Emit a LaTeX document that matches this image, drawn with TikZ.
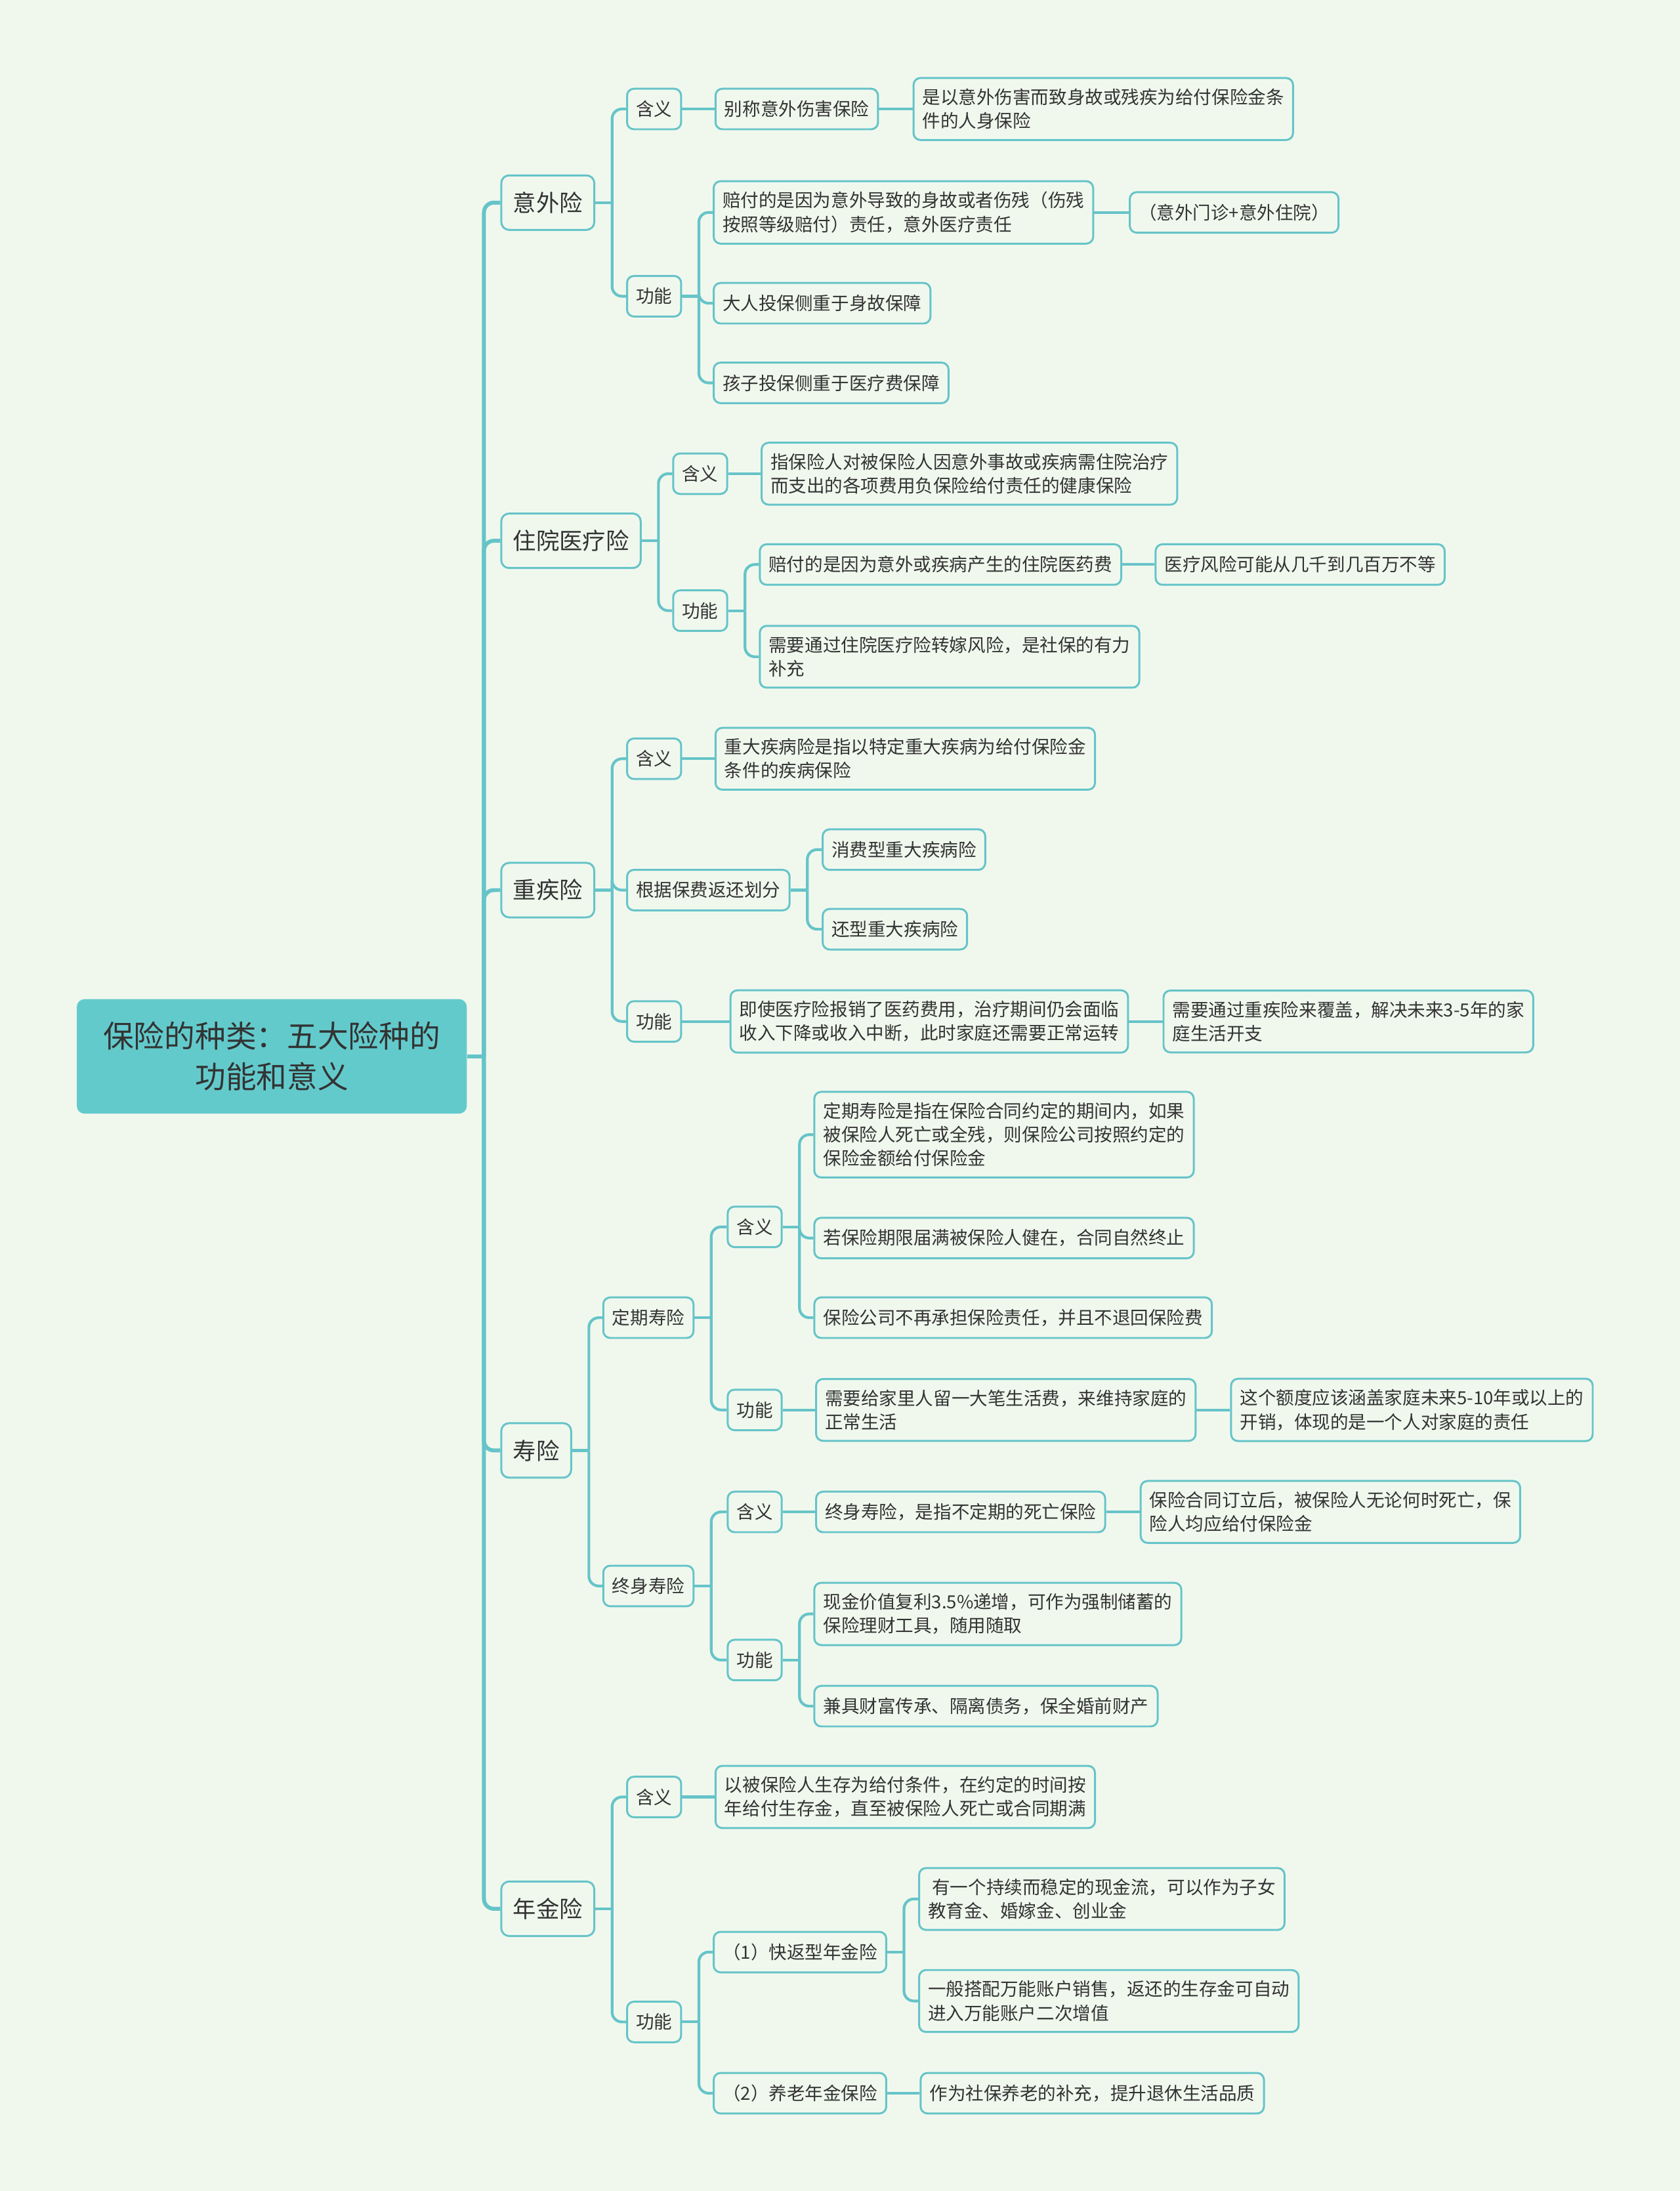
\documentclass[tikz,border=0pt]{standalone}
\usepackage{fontspec}
\setmainfont{Noto Sans CJK SC}
\usetikzlibrary{positioning}
\definecolor{bgc}{HTML}{F0F8EE}
\definecolor{linec}{HTML}{66C4C8}
\definecolor{rootc}{HTML}{63CACC}
\definecolor{txtc}{HTML}{333333}

\begin{document}
\begin{tikzpicture}[
  x=0.025cm, y=-0.025cm,
  link/.style  = {draw=linec, line width=1.4pt, rounded corners=5pt},
  root/.style  = {fill=rootc, rounded corners=4pt, text=txtc, align=center,
                  minimum width=6.975cm, minimum height=2.05cm,
                  font=\fontsize{15.6}{20.6}\selectfont},
  main/.style  = {draw=linec, line width=1pt, fill=bgc, rounded corners=4pt, text=txtc,
                  inner xsep=0.21cm, minimum height=0.975cm,
                  font=\fontsize{11.8}{15}\selectfont},
  box/.style   = {draw=linec, line width=1pt, fill=bgc, rounded corners=3.5pt, text=txtc,
                  align=left, inner xsep=0.16cm, inner ysep=0.19cm, minimum height=0.725cm,
                  font=\fontsize{9.2}{12.1}\selectfont},
]
  \fill[bgc] (0,0) rectangle (1202,1568);

  \node[root] (root) at (194.5,756) {保险的种类：五大险种的\\功能和意义};

  \node[main, anchor=west] (yw) at (358,145)  {意外险};
  \node[main, anchor=west] (zy) at (358,387)  {住院医疗险};
  \node[main, anchor=west] (zj) at (358,637)  {重疾险};
  \node[main, anchor=west] (sx) at (358,1038) {寿险};
  \node[main, anchor=west] (nj) at (358,1366) {年金险};

  % 意外险
  \node[box, anchor=west]          (ywhy)   at (448,78) {含义};
  \node[box, right=0.58cm of ywhy]  (ywhy1)  {别称意外伤害保险};
  \node[box, right=0.6cm of ywhy1]  (ywhy2)  {是以意外伤害而致身故或残疾为给付保险金条\\件的人身保险};
  \node[box, anchor=west]          (ywgn)   at (448,212) {功能};
  \node[box, anchor=west]          (ywgn1)  at (510,152) {赔付的是因为意外导致的身故或者伤残（伤残\\按照等级赔付）责任，意外医疗责任};
  \node[box, right=0.62cm of ywgn1] (ywgn1a) {（意外门诊+意外住院）};
  \node[box, anchor=west]          (ywgn2)  at (510,217) {大人投保侧重于身故保障};
  \node[box, anchor=west]          (ywgn3)  at (510,274) {孩子投保侧重于医疗费保障};

  % 住院医疗险
  \node[box, anchor=west]          (zyhy)   at (481,339) {含义};
  \node[box, right=0.58cm of zyhy]  (zyhy1)  {指保险人对被保险人因意外事故或疾病需住院治疗\\而支出的各项费用负保险给付责任的健康保险};
  \node[box, anchor=west]          (zygn)   at (481,437) {功能};
  \node[box, anchor=west]          (zygn1)  at (543,404) {赔付的是因为意外或疾病产生的住院医药费};
  \node[box, right=0.58cm of zygn1] (zygn1a) {医疗风险可能从几千到几百万不等};
  \node[box, anchor=west]          (zygn2)  at (543,470) {需要通过住院医疗险转嫁风险，是社保的有力\\补充};

  % 重疾险
  \node[box, anchor=west]          (zjhy)   at (448,543) {含义};
  \node[box, right=0.58cm of zjhy]  (zjhy1)  {重大疾病险是指以特定重大疾病为给付保险金\\条件的疾病保险};
  \node[box, anchor=west]          (zjfl)   at (448,637) {根据保费返还划分};
  \node[box, anchor=west]          (zjfl1)  at (588,608) {消费型重大疾病险};
  \node[box, anchor=west]          (zjfl2)  at (588,665) {还型重大疾病险};
  \node[box, anchor=west]          (zjgn)   at (448,731) {功能};
  \node[box, anchor=west]          (zjgn1)  at (522,731) {即使医疗险报销了医药费用，治疗期间仍会面临\\收入下降或收入中断，此时家庭还需要正常运转};
  \node[box, right=0.6cm of zjgn1]  (zjgn1a) {需要通过重疾险来覆盖，解决未来3-5年的家\\庭生活开支};

  % 寿险
  \node[box, anchor=west]          (dq)     at (431,943)  {定期寿险};
  \node[box, anchor=west]          (zs)     at (431,1135) {终身寿险};
  \node[box, anchor=west]          (dqhy)   at (520,878)  {含义};
  \node[box, anchor=west]          (dqhy1)  at (582,812)  {定期寿险是指在保险合同约定的期间内，如果\\被保险人死亡或全残，则保险公司按照约定的\\保险金额给付保险金};
  \node[box, anchor=west]          (dqhy2)  at (582,886)  {若保险期限届满被保险人健在，合同自然终止};
  \node[box, anchor=west]          (dqhy3)  at (582,943)  {保险公司不再承担保险责任，并且不退回保险费};
  \node[box, anchor=west]          (dqgn)   at (520,1009) {功能};
  \node[box, right=0.58cm of dqgn]  (dqgn1)  {需要给家里人留一大笔生活费，来维持家庭的\\正常生活};
  \node[box, right=0.6cm of dqgn1]  (dqgn1a) {这个额度应该涵盖家庭未来5-10年或以上的\\开销，体现的是一个人对家庭的责任};
  \node[box, anchor=west]          (zshy)   at (520,1082) {含义};
  \node[box, right=0.58cm of zshy]  (zshy1)  {终身寿险，是指不定期的死亡保险};
  \node[box, right=0.6cm of zshy1]  (zshy1a) {保险合同订立后，被保险人无论何时死亡，保\\险人均应给付保险金};
  \node[box, anchor=west]          (zsgn)   at (520,1188) {功能};
  \node[box, anchor=west]          (zsgn1)  at (582,1155) {现金价值复利3.5\%递增，可作为强制储蓄的\\保险理财工具，随用随取};
  \node[box, anchor=west]          (zsgn2)  at (582,1221) {兼具财富传承、隔离债务，保全婚前财产};

  % 年金险
  \node[box, anchor=west]          (njhy)   at (448,1286) {含义};
  \node[box, right=0.58cm of njhy]  (njhy1)  {以被保险人生存为给付条件，在约定的时间按\\年给付生存金，直至被保险人死亡或合同期满};
  \node[box, anchor=west]          (njgn)   at (448,1447) {功能};
  \node[box, anchor=west]          (njgn1)  at (510,1397) {（1）快返型年金险};
  \node[box, anchor=west]          (njgn1a) at (657,1359) {\ 有一个持续而稳定的现金流，可以作为子女\\教育金、婚嫁金、创业金};
  \node[box, anchor=west]          (njgn1b) at (657,1432) {一般搭配万能账户销售，返还的生存金可自动\\进入万能账户二次增值};
  \node[box, anchor=west]          (njgn2)  at (510,1498) {（2）养老年金保险};
  \node[box, right=0.58cm of njgn2] (njgn2a) {作为社保养老的补充，提升退休生活品质};

  % trunk
  \draw[link, line width=2pt] (root.east) -- ++(12,0);
  \foreach \n in {yw,zy,zj,sx,nj}
    \draw[link, line width=2pt] (root.east) ++(12,0) |- (\n.west);

  % branches
  \draw[link] (yw.east) -- ++(12,0);
  \foreach \n in {ywhy,ywgn}
    \draw[link] (yw.east) ++(12,0) |- (\n.west);
  \draw[link] (ywhy) -- (ywhy1);
  \draw[link] (ywhy1) -- (ywhy2);
  \draw[link] (ywgn.east) -- ++(12,0);
  \foreach \n in {ywgn1,ywgn2,ywgn3}
    \draw[link] (ywgn.east) ++(12,0) |- (\n.west);
  \draw[link] (ywgn1) -- (ywgn1a);

  \draw[link] (zy.east) -- ++(12,0);
  \foreach \n in {zyhy,zygn}
    \draw[link] (zy.east) ++(12,0) |- (\n.west);
  \draw[link] (zyhy) -- (zyhy1);
  \draw[link] (zygn.east) -- ++(12,0);
  \foreach \n in {zygn1,zygn2}
    \draw[link] (zygn.east) ++(12,0) |- (\n.west);
  \draw[link] (zygn1) -- (zygn1a);

  \draw[link] (zj.east) -- ++(12,0);
  \foreach \n in {zjhy,zjfl,zjgn}
    \draw[link] (zj.east) ++(12,0) |- (\n.west);
  \draw[link] (zjhy) -- (zjhy1);
  \draw[link] (zjfl.east) -- ++(12,0);
  \foreach \n in {zjfl1,zjfl2}
    \draw[link] (zjfl.east) ++(12,0) |- (\n.west);
  \draw[link] (zjgn) -- (zjgn1);
  \draw[link] (zjgn1) -- (zjgn1a);

  \draw[link] (sx.east) -- ++(12,0);
  \foreach \n in {dq,zs}
    \draw[link] (sx.east) ++(12,0) |- (\n.west);
  \draw[link] (dq.east) -- ++(12,0);
  \foreach \n in {dqhy,dqgn}
    \draw[link] (dq.east) ++(12,0) |- (\n.west);
  \draw[link] (dqhy.east) -- ++(12,0);
  \foreach \n in {dqhy1,dqhy2,dqhy3}
    \draw[link] (dqhy.east) ++(12,0) |- (\n.west);
  \draw[link] (dqgn) -- (dqgn1);
  \draw[link] (dqgn1) -- (dqgn1a);
  \draw[link] (zs.east) -- ++(12,0);
  \foreach \n in {zshy,zsgn}
    \draw[link] (zs.east) ++(12,0) |- (\n.west);
  \draw[link] (zshy) -- (zshy1);
  \draw[link] (zshy1) -- (zshy1a);
  \draw[link] (zsgn.east) -- ++(12,0);
  \foreach \n in {zsgn1,zsgn2}
    \draw[link] (zsgn.east) ++(12,0) |- (\n.west);

  \draw[link] (nj.east) -- ++(12,0);
  \foreach \n in {njhy,njgn}
    \draw[link] (nj.east) ++(12,0) |- (\n.west);
  \draw[link] (njhy) -- (njhy1);
  \draw[link] (njgn.east) -- ++(12,0);
  \foreach \n in {njgn1,njgn2}
    \draw[link] (njgn.east) ++(12,0) |- (\n.west);
  \draw[link] (njgn1.east) -- ++(12,0);
  \foreach \n in {njgn1a,njgn1b}
    \draw[link] (njgn1.east) ++(12,0) |- (\n.west);
  \draw[link] (njgn2) -- (njgn2a);
\end{tikzpicture}
\end{document}
